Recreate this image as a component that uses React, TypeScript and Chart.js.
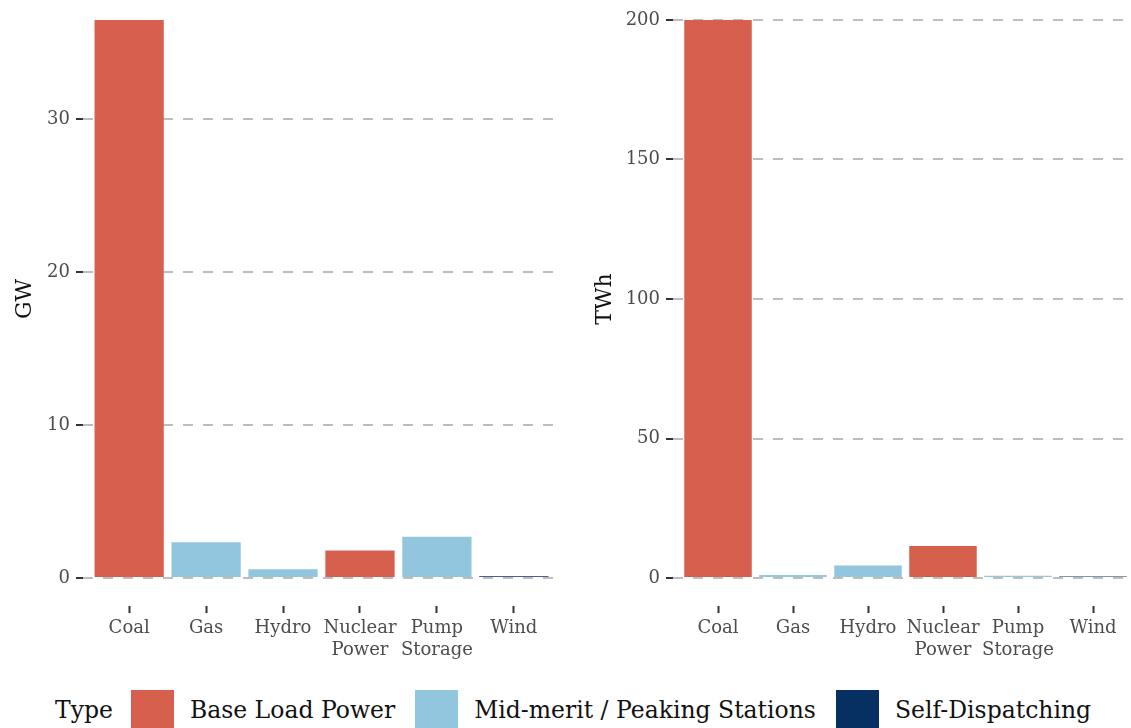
import React, { useEffect, useRef } from "react";
import { Chart, registerables } from "chart.js";

Chart.register(...registerables);

// Generation fleet by technology
const categories = ["Coal", "Gas", "Hydro", "Nuclear Power", "Pump Storage", "Wind"];
const plantTypes = [
  "Base Load Power",
  "Mid-merit / Peaking Stations",
  "Mid-merit / Peaking Stations",
  "Base Load Power",
  "Mid-merit / Peaking Stations",
  "Self-Dispatching",
];

// Installed capacity (GW) and annual output (TWh)
const capacityGW = [36.5, 2.35, 0.57, 1.8, 2.7, 0.12];
const generationTWh = [200, 1.1, 4.5, 11.5, 0.8, 0.6];

const gwTicks = [0, 10, 20, 30];
const twhTicks = [0, 50, 100, 150, 200];

const typeNames = ["Base Load Power", "Mid-merit / Peaking Stations", "Self-Dispatching"];
const typeColors = ["#D6604D", "#92C5DE", "#053061"];

const FONT = "'DejaVu Serif', 'Liberation Serif', serif";

function colorFor(type: string) {
  return typeColors[typeNames.indexOf(type)];
}

function makeConfig(values: number[], yTicks: number[], title: string, axisWidth: number, rightPad: number): any {
  const top = Math.max(...values);
  return {
    type: "bar",
    data: {
      datasets: [
        {
          data: values.map((v, i) => ({ x: i, y: v })),
          backgroundColor: plantTypes.map(colorFor),
          borderWidth: 0,
          barPercentage: 0.9,
          categoryPercentage: 1,
        },
      ],
    },
    options: {
      responsive: false,
      animation: false,
      layout: { padding: { left: 0, right: rightPad, top: 0, bottom: 0 } },
      plugins: { legend: { display: false }, tooltip: { enabled: false } },
      scales: {
        x: {
          type: "linear",
          offset: false,
          min: -0.6,
          max: categories.length - 0.4,
          afterBuildTicks: (s: any) => {
            s.ticks = categories.map((_, i) => ({ value: i }));
          },
          afterFit: (s: any) => {
            s.height = 60;
            s.paddingLeft = 0;
            s.paddingRight = 0;
          },
          grid: {
            offset: false,
            drawOnChartArea: false,
            drawTicks: true,
            tickLength: 7,
            tickColor: "#333333",
            tickWidth: 2,
          },
          border: { display: false },
          ticks: {
            padding: 4,
            maxRotation: 0,
            autoSkip: false,
            color: "#4D4D4D",
            font: { family: FONT, size: 18, lineHeight: 1.25 },
            callback: (v: number) => {
              const c = categories[Math.round(v)];
              return c ? c.split(" ") : "";
            },
          },
        },
        y: {
          type: "linear",
          min: -0.05 * top,
          max: 1.05 * top,
          afterBuildTicks: (s: any) => {
            s.ticks = yTicks.map((v) => ({ value: v }));
          },
          afterFit: (s: any) => {
            s.width = axisWidth;
            s.paddingTop = 0;
            s.paddingBottom = 0;
          },
          grid: {
            color: "#BDBDBD",
            lineWidth: 2,
            drawTicks: true,
            tickLength: 7,
            tickColor: "#333333",
            tickWidth: 2,
            tickBorderDash: [],
          },
          border: { display: false, dash: [10, 10] },
          ticks: {
            padding: 6,
            color: "#4D4D4D",
            font: { family: FONT, size: 18 },
          },
          title: {
            display: true,
            text: title,
            color: "#111111",
            font: { family: FONT, size: 22 },
            padding: { top: 12, bottom: 0 },
          },
        },
      },
    },
  };
}

function BarPanel(props: { values: number[]; ticks: number[]; title: string; left: number; axisWidth: number; rightPad: number }) {
  const ref = useRef<HTMLCanvasElement | null>(null);
  useEffect(() => {
    if (!ref.current) return;
    const chart = new Chart(ref.current, makeConfig(props.values, props.ticks, props.title, props.axisWidth, props.rightPad));
    return () => chart.destroy();
  }, []);
  return (
    <canvas
      ref={ref}
      width={570}
      height={674}
      style={{ position: "absolute", left: props.left, top: -8, width: 570, height: 674 }}
    />
  );
}

export default function App() {
  return (
    <div
      style={{
        position: "absolute",
        left: 0,
        top: 0,
        width: 1131,
        height: 728,
        overflow: "hidden",
        background: "#FFFFFF",
      }}
    >
      <BarPanel values={capacityGW} ticks={gwTicks} title="GW" left={0} axisWidth={83} rightPad={10} />
      <BarPanel values={generationTWh} ticks={twhTicks} title="TWh" left={580} axisWidth={93} rightPad={12} />
      <div
        style={{
          position: "absolute",
          left: 55,
          top: 690,
          height: 40,
          display: "flex",
          alignItems: "center",
          fontFamily: FONT,
          fontSize: 23.5,
          color: "#111111",
          whiteSpace: "nowrap",
        }}
      >
        <span style={{ marginRight: 18 }}>Type</span>
        {typeNames.map((name, i) => (
          <span key={name} style={{ display: "flex", alignItems: "center", marginRight: 20 }}>
            <span style={{ display: "inline-block", width: 43, height: 40, background: typeColors[i], marginRight: 16 }} />
            <span>{name}</span>
          </span>
        ))}
      </div>
    </div>
  );
}
